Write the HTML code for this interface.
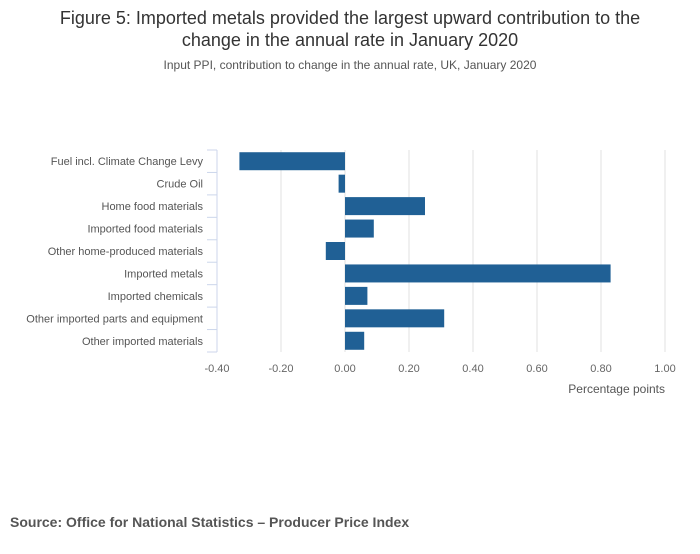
<!DOCTYPE html>
<html><head><meta charset="utf-8"><style>
body{margin:0;background:#fff;font-family:"Liberation Sans",sans-serif;}
svg text{font-family:"Liberation Sans",sans-serif;}
</style></head><body>
<svg width="700" height="549">
<text x="350" y="24" text-anchor="middle" font-size="18" fill="#333">Figure 5: Imported metals provided the largest upward contribution to the</text>
<text x="350" y="46" text-anchor="middle" font-size="18" fill="#333">change in the annual rate in January 2020</text>
<text x="350" y="69" text-anchor="middle" font-size="12" fill="#555">Input PPI, contribution to change in the annual rate, UK, January 2020</text>
<g id="grid"></g><g id="bars"></g><g id="yax"></g><g id="xax"></g>
<text x="665" y="393" text-anchor="end" font-size="12" fill="#555">Percentage points</text>
<text x="10" y="527" font-size="14" font-weight="bold" fill="#555">Source: Office for National Statistics – Producer Price Index</text>
</svg>
<script>
const categories=["Fuel incl. Climate Change Levy","Crude Oil","Home food materials","Imported food materials","Other home-produced materials","Imported metals","Imported chemicals","Other imported parts and equipment","Other imported materials"];
const values=[-0.33,-0.02,0.25,0.09,-0.06,0.83,0.07,0.31,0.06];
const ticks=[-0.4,-0.2,0,0.2,0.4,0.6,0.8,1.0];
const tickLabels=["-0.40","-0.20","0.00","0.20","0.40","0.60","0.80","1.00"];
const NS="http://www.w3.org/2000/svg";
const top_=150,bot=352,xmin=-0.4,xmax=1.0,left=217,right=665;
const xs=v=>left+(v-xmin)/(xmax-xmin)*(right-left);
const band=(bot-top_)/categories.length;
function mk(t,a,p){const e=document.createElementNS(NS,t);for(const k in a)e.setAttribute(k,a[k]);p.appendChild(e);return e;}
const g=document.getElementById('grid'),b=document.getElementById('bars'),ya=document.getElementById('yax'),xa=document.getElementById('xax');
ticks.forEach((t,i)=>{
 if(t!==xmin){const l=mk('line',{x1:xs(t),x2:xs(t),y1:top_,y2:bot,stroke:'#e0e0e0'},g);
 
 }
 const tx=mk('text',{x:xs(t),y:372,'text-anchor':'middle','font-size':11,fill:'#666'},xa);tx.textContent=tickLabels[i];
 
 
});
const ax=mk('line',{x1:left,x2:left,y1:top_,y2:bot,stroke:'#ccd6eb'},ya);


for(let i=0;i<=categories.length;i++){const tk=mk('line',{x1:left-10,x2:left,y1:top_+i*band,y2:top_+i*band,stroke:'#ccd6eb'},ya);
 
 }
categories.forEach((c,i)=>{
 const cy=top_+band*(i+0.5);
 const t=mk('text',{x:203,y:cy+4,'text-anchor':'end','font-size':11,fill:'#555'},ya);t.textContent=c;
 
 
 const v=values[i],x0=xs(Math.min(0,v)),w=Math.abs(xs(v)-xs(0));
 const r=mk('rect',{x:x0,y:cy-9,width:w,height:18,fill:'#206095'},b);
 
 
});
</script>
</body></html>
